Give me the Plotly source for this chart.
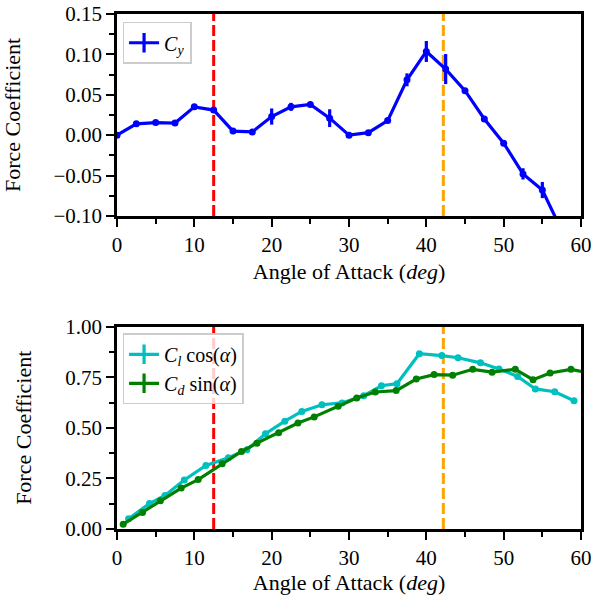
import plotly.graph_objects as go

# ---- data ----
# side force coefficient vs angle of attack
cy_alpha = [0, 2.5, 5, 7.5, 10, 12.5, 15, 17.5, 20, 22.5, 25, 27.5, 30,
            32.5, 35, 37.5, 40, 42.5, 45, 47.5, 50, 52.5, 55, 57.5]
cy_val = [0.000, 0.014, 0.0155, 0.015, 0.035, 0.031, 0.005, 0.004, 0.023,
          0.035, 0.038, 0.021, 0.000, 0.003, 0.018, 0.0685, 0.1036, 0.0818,
          0.055, 0.020, -0.010, -0.048, -0.068, -0.118]
cy_err = [0.001, 0.001, 0.001, 0.001, 0.001, 0.001, 0.001, 0.001, 0.010,
          0.005, 0.001, 0.011, 0.001, 0.001, 0.002, 0.008, 0.013, 0.0186,
          0.002, 0.001, 0.002, 0.007, 0.010, 0.010]

# lift and drag projections
cl_alpha = [1.5, 4.2, 6.2, 8.7, 11.5, 14.4, 16.8, 19.2, 21.7, 23.9, 26.5,
            29.1, 31.9, 34.2, 36.2, 39.1, 42.0, 44.1, 47.0, 49.4, 51.8,
            54.1, 56.6, 59.1]
cl_cos = [0.051, 0.126, 0.166, 0.242, 0.314, 0.352, 0.392, 0.471, 0.533,
          0.581, 0.614, 0.623, 0.659, 0.708, 0.718, 0.866, 0.857, 0.846,
          0.821, 0.791, 0.754, 0.692, 0.678, 0.634]
cd_alpha = [0.8, 3.3, 5.6, 8.3, 10.5, 13.6, 16.1, 18.1, 20.9, 23.4, 25.5,
            28.6, 31.0, 33.4, 36.1, 38.7, 41.0, 43.4, 46.0, 48.5, 51.5,
            53.8, 56.0, 58.7, 61.2]
cd_sin = [0.024, 0.082, 0.140, 0.202, 0.244, 0.322, 0.383, 0.424, 0.476,
          0.524, 0.554, 0.606, 0.647, 0.677, 0.684, 0.741, 0.763, 0.760,
          0.789, 0.775, 0.789, 0.738, 0.771, 0.789, 0.770]

# reference angles (stall markers)
vline_alpha = [12.5, 42.2]
vline_color = ["#ff0000", "#ffa500"]

FONT = "Liberation Serif"
TICK_SIZE = 21
TITLE_SIZE = 22
BLUE = "#0000ff"
CYAN = "#00bfbf"
GREEN = "#008000"

fig = go.Figure()

# top panel: C_y with error bars
fig.add_trace(go.Scatter(
    x=cy_alpha, y=cy_val, mode="lines+markers",
    line=dict(color=BLUE, width=3.2),
    marker=dict(color=BLUE, size=7),
    error_y=dict(type="data", array=cy_err, color=BLUE, thickness=3.2, width=0),
    showlegend=False, xaxis="x", yaxis="y",
))
fig.add_trace(go.Scatter(
    x=[None], y=[None], mode="lines+markers", name="<i>C<sub>y</sub></i>",
    line=dict(color=BLUE, width=3.2),
    marker=dict(symbol="line-ns", size=14, line=dict(color=BLUE, width=3.2)),
    xaxis="x", yaxis="y", legend="legend",
))

# bottom panel: lift and drag components
fig.add_trace(go.Scatter(
    x=cl_alpha, y=cl_cos, mode="lines+markers",
    line=dict(color=CYAN, width=3.2), marker=dict(color=CYAN, size=7),
    showlegend=False, xaxis="x2", yaxis="y2",
))
fig.add_trace(go.Scatter(
    x=cd_alpha, y=cd_sin, mode="lines+markers",
    line=dict(color=GREEN, width=3.2), marker=dict(color=GREEN, size=7),
    showlegend=False, xaxis="x2", yaxis="y2",
))
fig.add_trace(go.Scatter(
    x=[None], y=[None], mode="lines+markers",
    name="<i>C<sub>l</sub></i> cos(<i>α</i>)",
    line=dict(color=CYAN, width=3.2),
    marker=dict(symbol="line-ns", size=14, line=dict(color=CYAN, width=3.2)),
    xaxis="x2", yaxis="y2", legend="legend2",
))
fig.add_trace(go.Scatter(
    x=[None], y=[None], mode="lines+markers",
    name="<i>C<sub>d</sub></i> sin(<i>α</i>)",
    line=dict(color=GREEN, width=3.2),
    marker=dict(symbol="line-ns", size=14, line=dict(color=GREEN, width=3.2)),
    xaxis="x2", yaxis="y2", legend="legend2",
))

# dashed reference lines in both panels
for xr, yr in (("x", "y domain"), ("x2", "y2 domain")):
    for a, c in zip(vline_alpha, vline_color):
        fig.add_shape(type="line", xref=xr, yref=yr, x0=a, x1=a, y0=0, y1=1,
                      line=dict(color=c, width=3, dash="11px,4px"), layer="below")

axis_common = dict(
    showline=True, linecolor="black", linewidth=2.5, mirror=True,
    ticks="outside", ticklen=8, tickwidth=2, tickcolor="black",
    showgrid=False, zeroline=False, automargin=False,
    tickfont=dict(family=FONT, size=TICK_SIZE, color="black"),
)
xtitle = dict(text="Angle of Attack (<i>deg</i>)",
              font=dict(family=FONT, size=TITLE_SIZE, color="black"), standoff=8)
ytitle = dict(text="Force Coefficient",
              font=dict(family=FONT, size=TITLE_SIZE, color="black"), standoff=28)
minor_x = dict(dtick=5, ticklen=5, tickwidth=2, ticks="outside", tickcolor="black")

legend_common = dict(
    xanchor="left", yanchor="top", xref="paper", yref="paper",
    bgcolor="rgba(255,255,255,0.8)", bordercolor="#cccccc", borderwidth=1.5,
    font=dict(family=FONT, size=20, color="black"),
    itemwidth=30, tracegroupgap=0,
)

fig.update_layout(
    width=595, height=595,
    margin=dict(l=117, r=14, t=14, b=66, autoexpand=False),
    paper_bgcolor="white", plot_bgcolor="white",
    font=dict(family=FONT, color="black"),
    xaxis=dict(axis_common, domain=[0, 1], range=[0, 60], dtick=10,
               minor=minor_x, title=xtitle, anchor="y"),
    yaxis=dict(axis_common, domain=[0.608, 1], range=[-0.1, 0.15],
               dtick=0.05, tickformat=".2f",
               minor=dict(dtick=0.025, ticklen=5, tickwidth=2, ticks="outside",
                          tickcolor="black"),
               title=ytitle, anchor="x"),
    xaxis2=dict(axis_common, domain=[0, 1], range=[0, 60], dtick=10,
                minor=minor_x, title=xtitle, anchor="y2"),
    yaxis2=dict(axis_common, domain=[0, 0.393], range=[0, 1.0],
                dtick=0.25, tickformat=".2f",
                minor=dict(dtick=0.125, ticklen=5, tickwidth=2, ticks="outside",
                           tickcolor="black"),
                title=ytitle, anchor="x2"),
    legend=dict(legend_common, x=0.012, y=0.985),
    legend2=dict(legend_common, x=0.012, y=0.38),
)

fig.write_html("out.html")
